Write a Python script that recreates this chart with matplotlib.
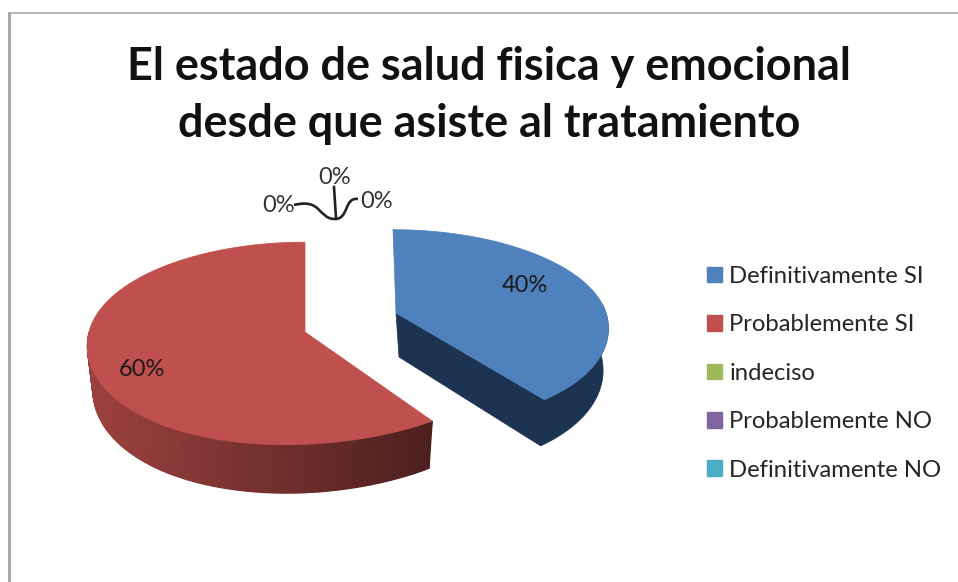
import numpy as np
import matplotlib
matplotlib.use("Agg")
import matplotlib.pyplot as plt
from matplotlib.patches import Polygon, PathPatch, Patch
from matplotlib.path import Path
from matplotlib.colors import to_rgb, LinearSegmentedColormap

title = "El estado de salud fisica y emocional\ndesde que asiste al tratamiento"
categories = ["Definitivamente SI", "Probablemente SI", "indeciso",
              "Probablemente NO", "Definitivamente NO"]
values = [40, 60, 0, 0, 0]
colors = ["#4f81bd", "#c0504d", "#9bbb59", "#8064a2", "#4bacc6"]

plt.rcParams['font.family'] = ['Lato', 'DejaVu Sans']
W, H = 958, 582
fig = plt.figure(figsize=(W / 100, H / 100), dpi=100)
ax = fig.add_axes([0, 0, 1, 1])
ax.set_xlim(0, W)
ax.set_ylim(H, 0)
ax.set_autoscale_on(False)
ax.axis("off")

# slice geometry: centre, radii, perspective, shear back/front, depth
GEOM = {
    0: dict(cx=396, cy=313, rx=210, ry=95, k=0.14, sb=-3, sf=14, d=41),
    1: dict(cx=305, cy=332, rx=216, ry=100, k=0.113, sb=0, sf=-19, d=43),
}


def project(t, g, bottom=False):
    u, v = np.sin(t), np.cos(t)
    s = 1 / (1 + g["k"] * v)
    shear = np.where(v > 0, g["sb"], g["sf"]) * v ** 2
    x = g["cx"] + g["rx"] * u * s + shear
    y = g["cy"] - g["ry"] * v * s
    if bottom:
        x = g["cx"] + (x - g["cx"]) * 0.975
        y = y + g["d"] * s
    return x, y


def shade(c, f):
    return tuple(np.array(to_rgb(c)) * f)


total = sum(values)
edges = np.cumsum([0] + values) / total * 2 * np.pi


def draw_top(i, a0, a1):
    g = GEOM[i]
    ts = np.linspace(a0, a1, 200)
    x, y = project(ts, g)
    pts = [(g["cx"], g["cy"])] + list(zip(x, y))
    ax.add_patch(Polygon(pts, closed=True, fc=colors[i], ec=colors[i], lw=0.5))


# red slice: outer wall with a smooth left-to-right gradient
g1 = GEOM[1]
ts = np.linspace(edges[1], 1.5 * np.pi, 160)
tx, ty = project(ts, g1)
bx, by = project(ts, g1, bottom=True)
X = np.vstack([tx, bx])
Y = np.vstack([ty, by])
wall_cmap = LinearSegmentedColormap.from_list("wall", [shade(colors[1], 0.40), shade(colors[1], 0.82)])
ax.pcolormesh(X, Y, -X, cmap=wall_cmap, shading="gouraud", rasterized=True)
draw_top(1, edges[1], edges[2])

# blue slice: cut wall and outer wall as one outline
g0 = GEOM[0]
wall = "#1c3452"
ts = np.linspace(0.5 * np.pi - 0.1, edges[1], 80)
tx, ty = project(ts, g0)
bx, by = project(ts, g0, bottom=True)
outline = (list(zip(tx, ty)) + [(g0["cx"], g0["cy"]), (g0["cx"] + 3, g0["cy"] + g0["d"] + 3)]
           + list(zip(bx[::-1], by[::-1])))
ax.add_patch(Polygon(outline, closed=True, fc=wall, ec=wall, lw=0.5))
draw_top(0, edges[0], edges[1])

# data labels
TXT = "#1a1a1a"
LF = 17
ax.text(525, 285, f"{values[0]}%", ha="center", va="center", fontsize=LF, color=TXT)
ax.text(142, 369, f"{values[1]}%", ha="center", va="center", fontsize=LF, color=TXT)
ax.text(279, 206, f"{values[2]}%", ha="center", va="center", fontsize=LF, color="#333333")
ax.text(335, 177, f"{values[3]}%", ha="center", va="center", fontsize=LF, color="#333333")
ax.text(377, 201, f"{values[4]}%", ha="center", va="center", fontsize=LF, color="#333333")

# leader lines of the zero labels
lead = Path([(294, 205), (322, 198), (318, 219), (335, 219), (349, 219), (344, 197), (358, 199)],
            [Path.MOVETO, Path.CURVE4, Path.CURVE4, Path.CURVE4, Path.CURVE4, Path.CURVE4, Path.CURVE4])
ax.add_patch(PathPatch(lead, fc="none", ec="#222222", lw=1.9))
ax.plot([334, 336], [187, 218], color="#222222", lw=1.9)

# title
ax.text(489, 95.5, title, ha="center", va="center", fontsize=32.4, fontweight="bold",
        color="#111111", linespacing=1.42)

# legend
handles = [Patch(fc=c, ec=c) for c in colors]
leg = ax.legend(handles, categories, loc="upper left", bbox_to_anchor=(707 / W, 1 - 266 / H),
                frameon=False, fontsize=17.2, labelspacing=1.147, handlelength=0.62,
                handleheight=0.62, handletextpad=0.32, borderpad=0, borderaxespad=0)
for t in leg.get_texts():
    t.set_color("#262626")

# picture frame
ax.plot([9, 9], [12, H], color="#a8a8a8", lw=2.2, solid_capstyle="butt")
ax.plot([8, W], [12.5, 12.5], color="#a8a8a8", lw=1.2, solid_capstyle="butt")

fig.savefig("out.png", dpi=100, facecolor="white")
